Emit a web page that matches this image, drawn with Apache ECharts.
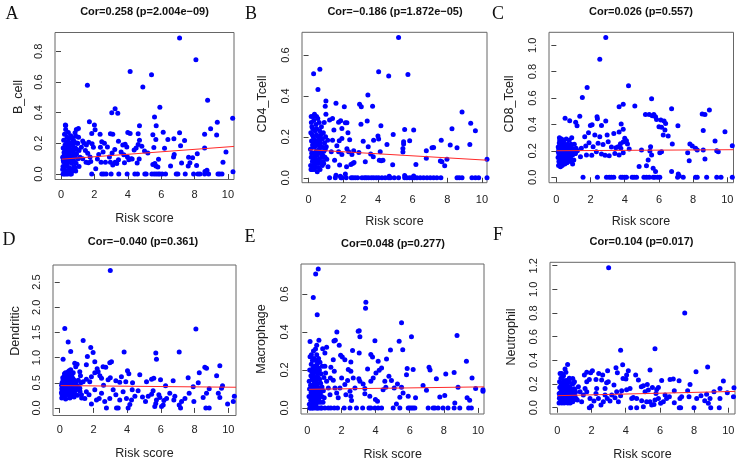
<!DOCTYPE html>
<html><head><meta charset="utf-8">
<script src="https://cdn.jsdelivr.net/npm/echarts@6/dist/echarts.min.js"></script>
<style>html,body{margin:0;padding:0;background:#fff}#c{width:740px;height:460px}</style>
</head><body><div id="c"></div>
<script>
// ---------- DATA ----------
const panelLetters = ["A","B","C","D","E","F"];
const cellNames = ["B_cell","CD4_Tcell","CD8_Tcell","Dendritic","Macrophage","Neutrophil"];
const titles = ["Cor=0.258 (p=2.004e\u221209)","Cor=\u22120.186 (p=1.872e\u221205)","Cor=0.026 (p=0.557)",
                "Cor=\u22120.040 (p=0.361)","Cor=0.048 (p=0.277)","Cor=0.104 (p=0.017)"];
const xName = "Risk score";
const xTicks = [0,2,4,6,8,10];
const yTicksA = [0,0.2,0.4,0.6,0.8];
const yTicksB = [0,0.2,0.4,0.6];
const yTicksC = [0,0.2,0.4,0.6,0.8,1.0];
const yTicksD = [0,0.5,1.0,1.5,2.0,2.5];
const yTicksE = [0,0.2,0.4,0.6];
const yTicksF = [0,0.2,0.4,0.6,0.8,1.0,1.2];

const fitA = [[0.05,0.097],[10.36,0.180]];
const fitB = [[0.02,0.137],[10.29,0.086]];
const fitC = [[0.02,0.201],[10.36,0.209]];
const fitD = [[0.05,0.444],[10.46,0.411]];
const fitE = [[0.1,0.098],[10.35,0.111]];
const fitF = [[0.02,0.102],[10.39,0.138]];

const pointsA = [
[7.1,0.887],[8.08,0.745],[4.14,0.669],[5.42,0.647],[1.58,0.579],[4.9,0.568],[8.78,0.481],[5.92,0.435],[3.24,0.426],[3.4,0.396],
[3.04,0.40],[5.6,0.372],[10.28,0.363],[9.36,0.337],[1.7,0.341],[2.0,0.32],[0.28,0.317],[4.7,0.315],[5.7,0.315],[8.96,0.295],
[1.04,0.297],[2.04,0.289],[4.0,0.271],[4.14,0.264],[6.12,0.273],[7.1,0.269],[2.96,0.262],[3.1,0.26],[5.5,0.256],[8.6,0.26],
[9.32,0.254],[4.62,0.262],[1.84,0.264],[2.34,0.26],[7.4,0.219],[6.4,0.225],[6.76,0.23],[7.16,0.184],[5.68,0.225],[8.6,0.17],
[6.2,0.168],[5.56,0.173],[9.88,0.144],[8.16,0.133],[6.78,0.127],[6.74,0.111],[7.64,0.109],[7.88,0.107],[7.72,0.074],[9.7,0.077],
[7.22,0.072],[5.84,0.096],[5.62,0.068],[5.5,0.063],[5.68,0.052],[5.8,0.046],[6.56,0.052],[7.62,0.052],[8.62,0.017],[8.74,0.024],
[8.12,0.055],[10.3,0.015],
[1.84,0],[2.44,0],[2.56,0],[2.7,0],[3.0,0],[3.46,0],[3.96,0],[4.42,0],[4.58,0],[5.02,0],[5.1,0],[5.44,0],[5.58,0],[5.7,0],
[5.82,0],[5.92,0],[6.06,0],[6.26,0],[6.9,0],[7.0,0],[7.44,0],[7.94,0],[8.2,0],[8.32,0],[8.6,0],[8.84,0],[9.4,0],[9.5,0],[9.64,0],
[3.6,0.144],[3.7,0.19],[3.84,0.195],[3.94,0.177],[4.38,0.157],[4.2,0.1],[3.98,0.111],[4.06,0.094],[3.76,0.125],[3.8,0.074],
[3.44,0.094],[3.34,0.068],[3.24,0.077],[3.1,0.059],[2.96,0.077],[3.06,0.138],[3.22,0.16],[3.44,0.214],[2.78,0.177],[2.6,0.2],
[2.44,0.21],[2.36,0.175],[2.52,0.144],[2.26,0.127],[2.18,0.098],[2.4,0.077],[2.66,0.077],[2.08,0.035],[1.94,0.175],[1.86,0.197],
[1.66,0.208],[1.52,0.19],[1.38,0.2],[1.3,0.216],[1.22,0.175],[1.46,0.153],[1.6,0.136],[1.74,0.111],[1.78,0.081],[1.64,0.074],
[1.5,0.077],[1.3,0.1],[1.14,0.109],[1.08,0.153],[1.0,0.2],[0.9,0.247],[0.84,0.269],[4.5,0.17],[4.7,0.22],[4.62,0.192],
[4.84,0.181],[5.0,0.151],[5.2,0.138],[4.68,0.098],[4.56,0.072],[4.26,0.098],[2.9,0.111],
[0.12,0.05],[0.15,0.08],[0.1,0.11],[0.18,0.14],[0.13,0.17],[0.2,0.03],[0.22,0.1],[0.25,0.06],[0.27,0.13],[0.24,0.19],
[0.3,0.02],[0.32,0.09],[0.35,0.15],[0.33,0.21],[0.38,0.05],[0.4,0.12],[0.42,0.18],[0.45,0.08],[0.47,0.23],[0.5,0.14],
[0.52,0.04],[0.55,0.1],[0.57,0.2],[0.6,0.16],[0.62,0.07],[0.65,0.12],[0.68,0.02],[0.7,0.19],[0.72,0.09],[0.75,0.14],
[0.78,0.05],[0.8,0.21],[0.83,0.11],[0.86,0.17],[0.9,0.07],[0.93,0.13],[0.97,0.2],[1.02,0.1],[0.16,0.22],[0.21,0.26],
[0.28,0.29],[0.26,0.32],[0.36,0.24],[0.44,0.27],[0.58,0.25],[0.66,0.24],[0.12,0],[0.2,0],[0.3,0],[0.4,0],
[0.55,0],[0.62,0],[0.18,0.12],[0.29,0.16],[0.37,0.1],[0.48,0.17],[0.53,0.2],[0.64,0.03],[0.74,0.22],[0.88,0.02],
[0.1,0.03],[0.14,0.09],[0.34,0.06],[0.46,0.02],[0.59,0.11],[0.69,0.15],[0.81,0.08],[0.95,0.16],[1.05,0.24],[0.92,0.29],
[1.08,0.05],[0.23,0.15],[0.31,0.19],[0.39,0.08],[0.43,0.14],[0.51,0.09],[0.61,0.19],[0.71,0.12],[0.79,0.17],[0.85,0.04]
];

const pointsB = [
[5.19,0.686],[0.65,0.53],[0.29,0.509],[4.04,0.518],[4.62,0.497],[5.73,0.505],[0.54,0.432],[3.42,0.404],[8.85,0.321],[1.0,0.375],
[0.96,0.35],[1.58,0.364],[2.06,0.347],[2.94,0.359],[3.04,0.347],[3.69,0.35],[9.35,0.267],[9.62,0.23],[8.27,0.24],[6.06,0.233],
[5.54,0.236],[3.02,0.262],[3.38,0.277],[4.17,0.254],[4.0,0.204],[4.88,0.212],[4.04,0.189],[3.75,0.184],[3.44,0.152],[3.15,0.179],
[4.52,0.163],[5.83,0.181],[5.48,0.176],[5.48,0.165],[5.44,0.143],[5.44,0.126],[7.65,0.184],[7.12,0.147],[7.21,0.148],[6.79,0.132],
[8.17,0.16],[8.56,0.147],[9.3,0.163],[10.29,0.09],[4.13,0.127],[4.08,0.086],[4.19,0.083],[4.29,0.086],[4.85,0.064],[6.19,0.065],
[6.79,0.095],[7.6,0.082],[7.69,0.078],[7.85,0.059],[7.98,0.09],[3.73,0.103],[3.27,0.078],[3.58,0.116],[2.9,0.124],[2.6,0.132],
[2.5,0.114],[2.44,0.065],[2.54,0.07],[2.62,0.075],[2.19,0.054],[2.21,0.142],[2.31,0.127],[2.37,0.186],[2.27,0.22],[2.12,0.269],
[2.21,0.269],[1.92,0.241],[1.73,0.272],[1.85,0.279],[1.92,0.192],[1.77,0.181],[1.63,0.157],[1.73,0.127],[1.92,0.114],[1.79,0.062],
[1.5,0.086],[1.31,0.127],[1.38,0.184],[1.46,0.233],[1.38,0.29],[1.21,0.282],[1.1,0.184],[1.02,0.152],[1.12,0.054],[0.87,0.07],
[1.21,0],[1.54,0],[1.87,0],[1.92,0],[2.17,0],[2.46,0],[2.56,0],[2.69,0],[2.83,0],[3.08,0],[3.23,0],[3.33,0],[3.46,0],[3.62,0],
[3.75,0],[3.9,0],[4.04,0],[4.23,0],[4.42,0],[4.62,0],[4.71,0],[4.94,0],[5.19,0],[5.54,0],[5.67,0],[5.83,0],[5.96,0],[6.1,0],
[6.25,0],[6.44,0],[6.63,0],[6.83,0],[7.02,0],[7.21,0],[7.4,0],[7.63,0],[8.56,0],[8.69,0],[8.85,0],[9.42,0],[9.62,0],[9.81,0],[10.29,0],
[1.58,0.013],[1.83,0.008],[2.12,0.018],[4.65,0.008],[5.54,0.011],[6.06,0.009],
[0.12,0.06],[0.15,0.1],[0.11,0.14],[0.17,0.18],[0.13,0.22],[0.16,0.27],[0.2,0.04],[0.22,0.08],[0.25,0.12],[0.23,0.16],
[0.27,0.2],[0.24,0.24],[0.3,0.28],[0.29,0.06],[0.33,0.1],[0.35,0.15],[0.31,0.19],[0.37,0.23],[0.34,0.31],[0.4,0.05],
[0.42,0.09],[0.44,0.13],[0.41,0.17],[0.46,0.21],[0.43,0.26],[0.48,0.07],[0.5,0.11],[0.52,0.16],[0.55,0.2],[0.53,0.29],
[0.57,0.05],[0.6,0.09],[0.62,0.14],[0.58,0.18],[0.64,0.23],[0.61,0.27],[0.67,0.08],[0.7,0.12],[0.68,0.17],[0.72,0.21],
[0.75,0.1],[0.78,0.15],[0.8,0.19],[0.74,0.25],[0.84,0.08],[0.88,0.13],[0.85,0.22],[0.92,0.17],[0.95,0.1],[0.98,0.2],
[0.9,0.27],[1.0,0.31],[0.18,0.12],[0.26,0.15],[0.38,0.07],[0.45,0.18],[0.56,0.13],[0.65,0.15],[0.14,0.04],[0.32,0.04],
[0.5,0.03],[0.21,0.21],[0.39,0.12],[0.47,0.24],[0.66,0.04],[0.79,0.06],[0.19,0.25],[0.28,0.09],[0.36,0.18],[0.54,0.08],
[0.63,0.19],[0.71,0.07],[0.82,0.11],[0.96,0.14],[1.05,0.09],[0.15,0.3],[0.28,0.3],[0.46,0.3]
];

const pointsC = [
[2.89,1.058],[2.54,0.894],[1.8,0.68],[1.52,0.605],[4.22,0.693],[3.91,0.554],[3.67,0.534],[4.59,0.539],[6.74,0.519],[5.57,0.594],
[8.95,0.509],[8.69,0.476],[8.53,0.479],[5.21,0.476],[5.43,0.476],[5.61,0.466],[5.7,0.476],[5.8,0.458],[5.86,0.438],[0.51,0.448],
[1.37,0.463],[2.38,0.458],[2.4,0.443],[2.89,0.426],[3.79,0.403],[7.11,0.39],[8.59,0.355],[9.86,0.345],[6.11,0.433],[6.3,0.426],
[6.39,0.408],[6.15,0.378],[6.0,0.383],[6.35,0.358],[6.25,0.32],[6.54,0.312],[2.64,0.393],[2.09,0.398],[1.99,0.393],[0.78,0.428],
[1.13,0.416],[1.21,0.39],[1.66,0.307],[1.88,0.338],[2.25,0.32],[2.54,0.307],[2.97,0.32],[3.36,0.332],[3.67,0.343],[3.91,0.363],
[4.0,0.295],[4.1,0.277],[3.91,0.267],[3.75,0.254],[4.16,0.252],[3.61,0.232],[3.48,0.224],[3.22,0.229],[3.03,0.27],[2.73,0.249],
[2.44,0.257],[2.15,0.232],[1.91,0.262],[1.72,0.237],[1.46,0.219],[1.23,0.201],[1.11,0.181],[1.41,0.156],[1.76,0.169],[2.07,0.166],
[2.34,0.194],[2.64,0.176],[2.85,0.166],[3.09,0.164],[3.42,0.181],[3.67,0.169],[3.91,0.186],[4.26,0.214],[3.77,0.219],[4.98,0.207],
[5.51,0.232],[5.47,0.2],[5.37,0.131],[5.27,0.088],[4.84,0.081],[5.66,0.068],[5.8,0.043],[5.57,0.169],[6.05,0.186],[6.15,0.194],
[6.78,0.252],[6.74,0.043],[7.13,0.025],[7.19,0.01],[7.68,0.186],[7.77,0.126],[7.81,0.252],[7.95,0.237],[8.14,0.219],[8.24,0.207],
[8.59,0.207],[8.69,0.139],[9.28,0.275],[9.38,0.201],[9.47,0.194],[10.29,0.239],
[1.56,0],[2.4,0],[2.93,0],[3.09,0],[3.22,0],[3.36,0],[3.77,0],[3.87,0],[4.0,0],[4.1,0],[4.43,0],[4.55,0],[4.69,0],[5.12,0],
[5.27,0],[5.43,0],[5.66,0],[5.76,0],[5.92,0],[6.05,0],[7.09,0],[7.42,0],[8.14,0],[8.24,0],[8.79,0],[9.38,0],[9.63,0],[10.29,0],
[0.1,0.15],[0.12,0.19],[0.11,0.23],[0.15,0.12],[0.16,0.17],[0.14,0.21],[0.17,0.26],[0.2,0.1],[0.22,0.14],[0.21,0.18],
[0.23,0.22],[0.2,0.28],[0.26,0.13],[0.27,0.17],[0.25,0.2],[0.28,0.24],[0.3,0.11],[0.32,0.15],[0.31,0.19],[0.33,0.23],
[0.3,0.29],[0.36,0.13],[0.37,0.17],[0.35,0.21],[0.38,0.26],[0.41,0.1],[0.42,0.15],[0.4,0.19],[0.43,0.23],[0.46,0.12],
[0.47,0.17],[0.45,0.2],[0.48,0.25],[0.5,0.14],[0.52,0.18],[0.51,0.22],[0.55,0.12],[0.56,0.16],[0.54,0.2],[0.57,0.24],
[0.6,0.14],[0.61,0.18],[0.63,0.22],[0.65,0.16],[0.67,0.2],[0.7,0.13],[0.72,0.18],[0.74,0.23],[0.78,0.16],[0.8,0.2],
[0.85,0.14],[0.88,0.19],[0.92,0.22],[0.96,0.17],[1.0,0.21],[1.05,0.25],[0.18,0.3],[0.29,0.27],[0.44,0.28],[0.58,0.29],
[0.13,0.09],[0.24,0.08],[0.34,0.09],[0.49,0.1],[0.62,0.11],[0.82,0.12],[0.95,0.1],[1.1,0.18],[1.15,0.22],[0.75,0.28],
[0.9,0.3],[1.02,0.13],[0.19,0.21],[0.39,0.17],[0.53,0.16],[0.66,0.25],[0.86,0.25]
];

const pointsD = [
[3.0,2.73],[0.3,1.58],[8.08,1.57],[1.39,1.34],[0.5,1.31],[0.65,1.12],[1.84,1.2],[1.98,1.1],[3.82,1.11],[5.7,1.09],
[5.74,0.97],[7.09,1.11],[0.2,0.97],[0.89,0.89],[1.03,0.87],[0.95,0.82],[1.58,0.86],[2.08,0.92],[2.22,0.78],[2.57,0.82],
[2.73,0.81],[2.97,0.9],[3.07,0.92],[9.5,0.84],[8.61,0.81],[8.71,0.79],[4.02,0.74],[4.1,0.68],[4.75,0.66],[3.66,0.62],
[2.48,0.59],[2.38,0.64],[2.87,0.56],[3.33,0.54],[3.56,0.51],[3.92,0.52],[4.32,0.5],[5.15,0.52],[5.45,0.57],[5.58,0.59],
[5.98,0.56],[6.28,0.44],[6.73,0.54],[7.62,0.6],[7.92,0.42],[8.22,0.5],[8.28,0.7],[9.31,0.64],[9.6,0.39],[9.66,0.44],
[9.41,0.29],[9.96,0.08],[10.3,0.13],[10.36,0.23],[9.5,0.21],[8.87,0.38],[8.71,0.29],[8.67,0],[8.87,0],[8.51,0.21],
[7.96,0.13],[7.68,0.29],[7.43,0.19],[7.23,0.13],[7.17,0],[7.09,0.06],[6.83,0.23],[6.77,0.16],[6.53,0.29],[6.34,0.19],
[6.18,0.15],[6.04,0.03],[6.14,0.06],[5.74,0.16],[5.7,0.09],[5.64,0.03],[5.94,0.21],[5.88,0.26],[5.54,0.34],[5.45,0.27],
[5.25,0.23],[5.09,0.13],[4.91,0.22],[4.65,0.34],[4.46,0.23],[4.26,0.16],[4.16,0.07],[4.06,0],[3.96,0.19],[3.76,0.32],
[3.56,0.16],[3.47,0],[3.37,0],[3.33,0.26],[3.17,0.36],[2.97,0.19],[2.77,0],[2.67,0.13],[2.48,0.29],[2.34,0.19],
[2.18,0.16],[2.08,0.36],[1.88,0.08],[1.74,0.26],[1.58,0.32],[1.49,0.19],[1.29,0.26],[1.19,0.39],[1.39,0.52],[1.58,0.57],
[1.78,0.52],[1.88,0.62],[2.08,0.7],[2.28,0.72],[1.64,1.02],[1.19,0.72],[1.23,0.64],[3.0,0.6],[4.3,0.36],[2.6,0.45],
[0.1,0.3],[0.12,0.38],[0.11,0.45],[0.14,0.26],[0.15,0.34],[0.16,0.42],[0.14,0.5],[0.2,0.22],[0.21,0.3],[0.19,0.37],
[0.22,0.45],[0.2,0.55],[0.25,0.27],[0.26,0.35],[0.27,0.43],[0.24,0.52],[0.26,0.62],[0.3,0.24],[0.32,0.32],[0.31,0.4],
[0.33,0.48],[0.3,0.57],[0.34,0.7],[0.37,0.28],[0.38,0.36],[0.36,0.44],[0.39,0.53],[0.4,0.62],[0.43,0.25],[0.44,0.33],
[0.42,0.41],[0.45,0.5],[0.46,0.58],[0.44,0.68],[0.49,0.3],[0.5,0.38],[0.51,0.46],[0.48,0.55],[0.52,0.65],[0.55,0.27],
[0.56,0.35],[0.57,0.43],[0.54,0.52],[0.58,0.6],[0.56,0.74],[0.61,0.32],[0.62,0.4],[0.6,0.48],[0.63,0.57],[0.64,0.68],
[0.67,0.25],[0.68,0.36],[0.7,0.45],[0.69,0.53],[0.72,0.63],[0.75,0.3],[0.77,0.4],[0.76,0.5],[0.79,0.58],[0.82,0.35],
[0.84,0.45],[0.86,0.55],[0.9,0.28],[0.92,0.4],[0.95,0.5],[0.98,0.36],[1.02,0.44],[1.05,0.25],[1.1,0.55],[1.15,0.4],
[0.18,0.6],[0.28,0.68],[0.5,0.72],[0.65,0.76],[0.8,0.7],[0.12,0.2],[0.35,0.18],[0.6,0.2],[0.85,0.22],[1.2,0.33],
[1.25,0.5],[1.3,0.2]
];

const pointsE = [
[0.64,0.732],[0.49,0.705],[0.35,0.581],[0.58,0.491],[3.43,0.556],[3.41,0.525],[5.52,0.449],[0.16,0.35],[0.68,0.356],[0.55,0.33],
[1.13,0.32],[1.73,0.4],[1.56,0.353],[1.64,0.356],[2.98,0.404],[3.04,0.407],[3.08,0.375],[3.96,0.354],[6.1,0.375],[8.77,0.382],
[1.87,0.33],[2.65,0.302],[4.87,0.305],[5.59,0.307],[5.38,0.351],[3.04,0.289],[1.03,0.289],[0.9,0.312],[1.52,0.254],[1.95,0.277],
[2.05,0.268],[2.2,0.254],[2.55,0.242],[3.72,0.281],[3.82,0.268],[4.15,0.246],[4.64,0.258],[4.02,0.184],[4.35,0.21],[4.21,0.198],
[3.53,0.205],[4.78,0.167],[4.93,0.144],[5.28,0.126],[5.85,0.207],[5.81,0.175],[6.2,0.202],[7.13,0.214],[7.19,0.2],[7.56,0.153],
[8.11,0.179],[8.6,0.186],[9.32,0.246],[9.65,0.158],[8.83,0.109],[9.86,0.102],[10.29,0.096],[10.29,0.088],[9.36,0.053],[9.51,0.04],
[8.64,0.026],[8.05,0.065],[7.76,0.058],[6.98,0.093],[6.78,0.118],[6.34,0.053],[5.91,0.061],[5.42,0.056],[5.22,0.021],[5.61,0.079],
[5.52,0.109],[5.09,0.105],[4.6,0.109],[4.54,0.14],[4.44,0.096],[4.11,0.035],[3.99,0.044],[3.66,0.061],[3.37,0.074],[3.27,0.126],
[3.08,0.14],[3.02,0.154],[3.37,0.102],[3.72,0.14],[3.86,0.158],[2.79,0.105],[2.69,0.158],[2.55,0.193],[2.4,0.202],[2.36,0.144],
[2.5,0.088],[2.55,0.061],[2.59,0.039],[2.26,0.07],[2.2,0.123],[2.01,0.158],[1.91,0.105],[1.81,0.053],[1.72,0.079],[1.62,0.105],
[1.52,0.146],[1.58,0.193],[1.38,0.214],[1.35,0.158],[1.33,0.07],[1.23,0.105],[1.13,0.14],[1.07,0.184],[1.03,0.219],[0.99,0.053],
[1.03,0],[1.23,0],[1.38,0],[1.58,0],[1.77,0],[2.16,0],[2.5,0],[2.88,0],[3.24,0],[3.61,0],[3.72,0],[3.96,0],[4.15,0],[4.35,0],
[5.03,0],[5.42,0],[5.91,0],[6.0,0],[6.1,0],[6.2,0],[6.3,0],[7.08,0],[7.37,0],[7.47,0],[7.66,0],[7.95,0],[8.24,0],[8.6,0],
[8.93,0],[9.45,0],[9.61,0],
[0.12,0.02],[0.1,0.06],[0.13,0.1],[0.11,0.14],[0.14,0.2],[0.16,0.27],[0.18,0],[0.2,0.04],[0.22,0.08],[0.19,0.12],
[0.21,0.17],[0.23,0.23],[0.26,0.01],[0.27,0.05],[0.25,0.1],[0.28,0.15],[0.26,0.19],[0.3,0.25],[0.32,0],[0.33,0.03],
[0.31,0.07],[0.34,0.12],[0.35,0.17],[0.33,0.21],[0.38,0.02],[0.39,0.06],[0.37,0.1],[0.4,0.14],[0.41,0.19],[0.39,0.26],
[0.44,0],[0.45,0.04],[0.43,0.08],[0.46,0.12],[0.47,0.16],[0.45,0.22],[0.5,0.02],[0.51,0.06],[0.49,0.1],[0.52,0.15],
[0.53,0.2],[0.51,0.25],[0.56,0],[0.57,0.05],[0.55,0.09],[0.58,0.13],[0.59,0.18],[0.57,0.23],[0.62,0.03],[0.63,0.07],
[0.61,0.11],[0.64,0.16],[0.65,0.21],[0.68,0],[0.69,0.05],[0.7,0.1],[0.72,0.15],[0.71,0.2],[0.76,0.03],[0.77,0.08],
[0.78,0.13],[0.8,0.18],[0.84,0],[0.85,0.06],[0.86,0.11],[0.88,0.22],[0.92,0.03],[0.94,0.09],[0.97,0.16],[0.66,0.26],
[0.74,0.24],[0.55,0.28],[0.48,0.31],[0.36,0.3],[0.24,0.28],[0.15,0],[0.29,0],[0.6,0],[0.8,0]
];

const pointsF = [
[3.0,1.183],[7.45,0.8],[3.7,0.485],[5.71,0.499],[8.79,0.344],[3.82,0.363],[3.43,0.338],[2.94,0.313],[2.05,0.313],[1.95,0.296],
[1.72,0.299],[1.58,0.276],[4.15,0.313],[5.42,0.318],[8.11,0.304],[4.05,0.276],[4.58,0.276],[4.74,0.234],[4.01,0.242],[3.84,0.248],
[3.51,0.296],[2.65,0.276],[2.42,0.29],[2.26,0.239],[2.59,0.234],[2.88,0.211],[2.98,0.22],[3.31,0.192],[3.47,0.135],[3.76,0.144],
[4.05,0.152],[4.25,0.163],[4.44,0.087],[4.35,0.079],[4.64,0.079],[4.29,0],[4.64,0],[4.91,0.177],[5.03,0.186],[5.26,0.197],
[5.81,0.155],[5.91,0.172],[5.56,0.172],[6.1,0.231],[6.59,0.239],[6.78,0.242],[7.12,0.228],[7.76,0.197],[7.62,0.144],[8.4,0.101],
[8.73,0.113],[8.93,0.079],[8.83,0.037],[8.62,0.059],[9.16,0.135],[9.51,0.163],[9.71,0.225],[9.94,0.127],[10.33,0.169],[10.3,0.093],
[9.51,0.079],[9.47,0],[8.97,0],[7.99,0],[8.15,0.079],[7.7,0.093],[7.27,0.093],[7.17,0.079],[7.13,0],[7.21,0],
[6.84,0.144],[6.84,0.042],[6.55,0.093],[6.39,0.079],[6.3,0.107],[6.2,0.051],[6.04,0.037],[5.91,0.079],[5.71,0.065],[5.65,0.028],
[5.52,0.023],[5.42,0.051],[5.22,0.051],[5.03,0.008],[4.93,0.059],[5.13,0.135],[5.32,0.149],[5.77,0.121],[3.7,0.101],[3.57,0.051],
[3.37,0.085],[3.18,0.107],[3.08,0.056],[2.92,0.079],[2.79,0.107],[2.69,0.051],[2.55,0.023],[2.4,0.079],[2.26,0.121],[2.14,0.056],
[1.99,0.014],[1.87,0],[1.91,0.079],[1.72,0.135],[1.62,0.163],[1.52,0.107],[1.33,0.135],[1.23,0.177],[1.17,0.065],[1.03,0.149],
[0.94,0.206],[0.9,0.248],[0.7,0.22],[0.6,0.366],[0.45,0.327],[0.25,0.29],[1.09,0.079],[1.42,0.051],[2.3,0.163],[2.79,0.163],
[1.72,0.22],[1.87,0.239],
[0.1,0.04],[0.12,0.08],[0.11,0.12],[0.14,0.17],[0.13,0.22],[0.18,0.05],[0.2,0.09],[0.19,0.13],[0.22,0.19],[0.21,0.25],
[0.26,0.04],[0.27,0.07],[0.25,0.11],[0.28,0.15],[0.3,0.21],[0.33,0.05],[0.34,0.09],[0.32,0.13],[0.35,0.17],[0.37,0.23],
[0.4,0.04],[0.41,0.08],[0.39,0.11],[0.42,0.14],[0.44,0.2],[0.47,0.06],[0.48,0.1],[0.46,0.13],[0.5,0.17],[0.52,0.23],
[0.54,0.05],[0.55,0.09],[0.53,0.12],[0.57,0.15],[0.58,0.2],[0.61,0.04],[0.62,0.08],[0.6,0.11],[0.64,0.14],[0.66,0.18],
[0.68,0.06],[0.7,0.1],[0.72,0.13],[0.74,0.17],[0.77,0.08],[0.79,0.11],[0.81,0.15],[0.84,0.06],[0.86,0.1],[0.88,0.2],
[0.92,0.12],[0.95,0.08],[0.98,0.16],[1.02,0.1],[1.06,0.13],[1.12,0.07],[0.16,0.29],[0.36,0.27],[0.5,0.3],[0.7,0.25],
[0.15,0.1],[0.24,0.16],[0.31,0.08],[0.38,0.18],[0.45,0.1],[0.56,0.07],[0.63,0.16],[0.75,0.04],[0.9,0.05],[1.0,0.22]
];

// ---------- LAYOUT ----------
const panels = [
  {pts: pointsA, fit: fitA, yt: yTicksA, grid:{left:55, top:32.5, width:179, height:147}, xr:[-0.36,10.36], yr:[-0.0355,0.9225], title:[144.5,12], letter:[12,14], yname:[18.3,97], xname:[144.5,218.3], xlm:10},
  {pts: pointsB, fit: fitB, yt: yTicksB, grid:{left:302, top:32.3, width:185, height:150.4}, xr:[-0.38,10.29], yr:[-0.024,0.711], title:[395,12], letter:[251,14], yname:[263,104], xname:[394.5,221.7], xlm:12},
  {pts: pointsC, fit: fitC, yt: yTicksC, grid:{left:549, top:32.3, width:184.5, height:150.4}, xr:[-0.43,10.36], yr:[-0.041,1.098], title:[641,12], letter:[498,14], yname:[510,104], xname:[641,221.7], xlm:12},
  {pts: pointsD, fit: fitD, yt: yTicksD, grid:{left:53, top:265, width:183, height:150.5}, xr:[-0.4,10.46], yr:[-0.15,2.84], title:[143,242], letter:[9,240], yname:[15.5,331], xname:[144.5,453.3], xlm:8.5},
  {pts: pointsE, fit: fitE, yt: yTicksE, grid:{left:301, top:264, width:183, height:150}, xr:[-0.37,10.35], yr:[-0.032,0.758], title:[393,244], letter:[250,237], yname:[262,339], xname:[392.7,454.3], xlm:11.5},
  {pts: pointsF, fit: fitF, yt: yTicksF, grid:{left:550, top:262.3, width:185, height:151.7}, xr:[-0.43,10.39], yr:[-0.053,1.229], title:[641.5,242], letter:[498,235], yname:[512,337], xname:[642.5,455], xlm:11}
];

const FONT = "'Liberation Sans', Arial, sans-serif";
const TXT = '#222';
const option = {
  animation: false,
  backgroundColor: '#fff',
  grid: [], xAxis: [], yAxis: [], series: [], graphic: []
};
panels.forEach((p, i) => {
  option.grid.push(Object.assign({show:true, borderColor:'#666', borderWidth:1, backgroundColor:'transparent'}, p.grid));
  option.xAxis.push({
    type:'value', gridIndex:i, min:p.xr[0], max:p.xr[1],
    axisLine:{show:false},
    axisTick:{show:true, inside:false, length:5, lineStyle:{color:'#444'}, customValues:xTicks},
    axisLabel:{show:true, margin:p.xlm, fontFamily:FONT, fontSize:11, color:TXT, customValues:xTicks, formatter: v => String(Math.round(v))},
    splitLine:{show:false}
  });
  option.yAxis.push({
    type:'value', gridIndex:i, min:p.yr[0], max:p.yr[1],
    axisLine:{show:false},
    axisTick:{show:true, inside:false, length:5, lineStyle:{color:'#444'}, customValues:p.yt},
    axisLabel:{show:true, rotate:90, margin:11, fontFamily:FONT, fontSize:11, color:TXT, customValues:p.yt, formatter: v => v.toFixed(1)},
    splitLine:{show:false}
  });
  option.series.push({
    type:'scatter', xAxisIndex:i, yAxisIndex:i, data:p.pts, symbol:'circle', symbolSize:5,
    itemStyle:{color:'#0000ff', opacity:1}, clip:true, z:2, silent:true
  });
  option.series.push({
    type:'line', xAxisIndex:i, yAxisIndex:i, data:p.fit, showSymbol:false, symbol:'none',
    lineStyle:{color:'#ff2a2a', width:1}, clip:true, z:3, silent:true
  });
  option.graphic.push({type:'text', x:p.title[0], y:p.title[1], style:{text:titles[i], textAlign:'center', textVerticalAlign:'middle', font:"bold 11px " + FONT, fill:'#111'}});
  option.graphic.push({type:'text', x:p.letter[0], y:p.letter[1], style:{text:panelLetters[i], textAlign:'center', textVerticalAlign:'middle', font:"18px 'Liberation Serif', 'Times New Roman', serif", fill:'#111'}});
  option.graphic.push({type:'text', x:p.yname[0], y:p.yname[1], rotation:Math.PI/2, style:{text:cellNames[i], textAlign:'center', textVerticalAlign:'middle', font:"12.5px " + FONT, fill:TXT}});
  option.graphic.push({type:'text', x:p.xname[0], y:p.xname[1], style:{text:xName, textAlign:'center', textVerticalAlign:'middle', font:"12.5px " + FONT, fill:TXT}});
});
const chart = echarts.init(document.getElementById('c'), null, {renderer:'canvas'});
chart.setOption(option);
</script>
</body></html>
